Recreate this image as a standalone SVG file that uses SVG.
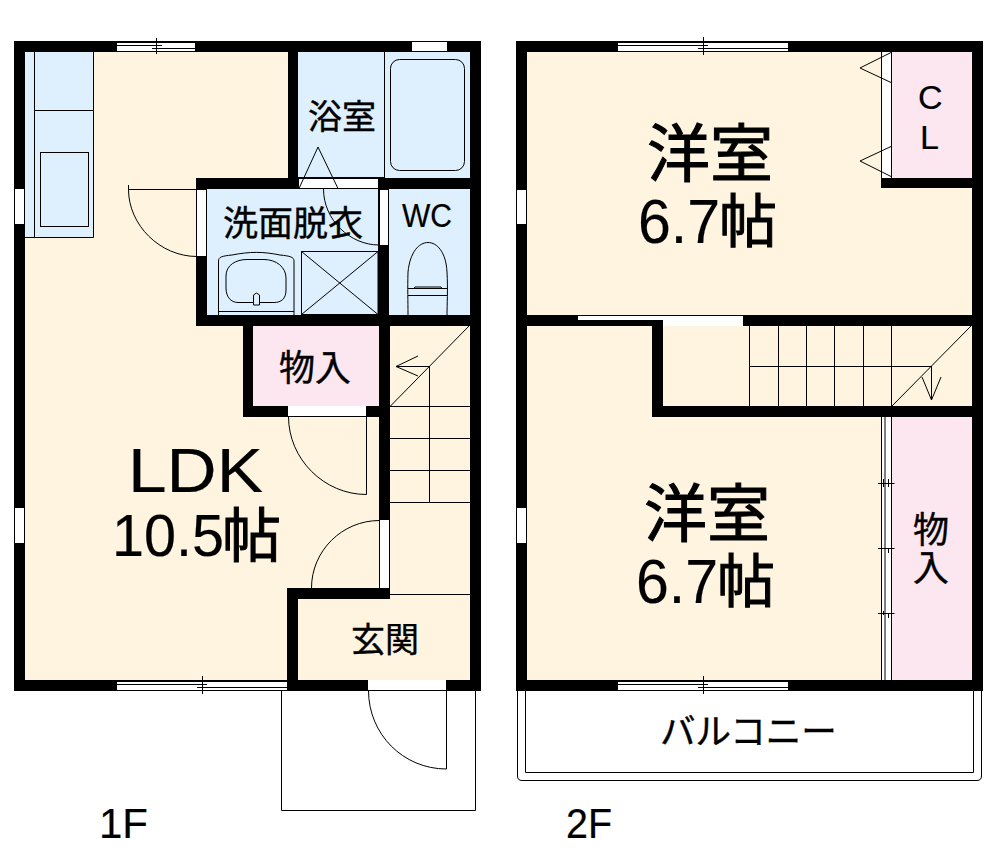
<svg xmlns="http://www.w3.org/2000/svg" width="995" height="863" viewBox="0 0 995 863">
<style>
.cream{fill:#fef4e0}.blue{fill:#deeffd}.pink{fill:#fce6f0}.win{fill:#fff}.wall{fill:#000}
.l{fill:none;stroke:#000;stroke-width:1}
.j{font-family:"Noto Sans CJK JP","Liberation Sans",sans-serif;fill:#000;stroke:#000;stroke-width:.4}
.big{stroke-width:1}
.a{font-family:"Liberation Sans","Noto Sans CJK JP",sans-serif;fill:#000;stroke:#000;stroke-width:.2}
</style>
<defs>
<g id="win170"><rect class="win" x="0" y="1" width="170" height="10"/><path class="l" d="M0 1.500H170M0 4.500H90M80 7.500H170M0 10.500H170M85.500 -4V14"/></g>
</defs>
<rect width="995" height="863" fill="#fff"/>
<g id="floor-1f">
<rect class="cream" x="25" y="52" width="264" height="628"/>
<rect class="blue" x="25" y="52" width="68.500" height="185.500"/>
<rect class="blue" x="298" y="52" width="172" height="126"/>
<rect class="blue" x="207" y="189" width="171" height="126"/>
<rect class="blue" x="389" y="189" width="81" height="126"/>
<rect class="cream" x="289" y="325" width="181" height="355"/>
<rect class="pink" x="253" y="325" width="126" height="81"/>
</g>
<g id="floor-2f">
<rect class="cream" x="527" y="52" width="445" height="628"/>
<rect class="pink" x="892" y="52" width="80" height="126"/>
<rect class="pink" x="892" y="417" width="80" height="263"/>
</g>
<g id="walls-1f">
<rect class="wall" x="14" y="41" width="467" height="11"/>
<rect class="wall" x="14" y="41" width="11" height="649"/>
<rect class="wall" x="470" y="41" width="11" height="649"/>
<rect class="wall" x="14" y="680" width="467" height="11"/>
<rect class="wall" x="288" y="41" width="10" height="148"/>
<rect class="wall" x="196" y="178" width="285" height="11"/>
<rect class="wall" x="196" y="178" width="11" height="148"/>
<rect class="wall" x="378" y="178" width="11" height="148"/>
<rect class="wall" x="196" y="315" width="285" height="11"/>
<rect class="wall" x="243" y="325" width="10" height="92"/>
<rect class="wall" x="243" y="406" width="147" height="11"/>
<rect class="wall" x="379" y="325" width="11" height="274"/>
<rect class="wall" x="287" y="588" width="103" height="11"/>
<rect class="wall" x="287" y="588" width="11" height="102"/>
</g>
<g id="walls-2f">
<rect class="wall" x="516" y="41" width="467" height="11"/>
<rect class="wall" x="516" y="41" width="11" height="650"/>
<rect class="wall" x="972" y="41" width="11" height="650"/>
<rect class="wall" x="516" y="680" width="467" height="11"/>
<rect class="wall" x="881" y="178" width="102" height="10"/>
<rect class="wall" x="516" y="315" width="467" height="11"/>
<rect class="wall" x="652" y="320" width="11" height="97"/>
<rect class="wall" x="652" y="406" width="331" height="11"/>
</g>
<g id="openings">
<rect class="win" x="117" y="42" width="78" height="10"/>
<path class="l" d="M117 42.500H195M117 45.500H162M152 48.500H195M117 51.500H195M156.500 38V54"/>
<use href="#win170" transform="translate(117 680)"/>
<rect class="win" x="412" y="42" width="35" height="9"/>
<rect class="win" x="15" y="189" width="9" height="35"/>
<rect class="win" x="15" y="508" width="9" height="35"/>
<rect class="win" x="197" y="190" width="9" height="66"/>
<rect class="win" x="299" y="179" width="79" height="9"/>
<rect class="win" x="380" y="190" width="8" height="55"/>
<rect class="win" x="288" y="406" width="78" height="10"/>
<rect class="win" x="380" y="520" width="9" height="68"/>
<rect class="win" x="368" y="680" width="78" height="10"/>
<use href="#win170" transform="translate(618 41)"/>
<use href="#win170" transform="translate(618 680)"/>
<rect class="win" x="517" y="190" width="9" height="34"/>
<rect class="win" x="517" y="508" width="9" height="35"/>
<rect class="win" x="882" y="52" width="10" height="126"/>
<rect class="win" x="578" y="316" width="79" height="4"/>
<rect class="win" x="663" y="316" width="80" height="10"/>
<rect class="win" x="657" y="316" width="6" height="4"/>
<rect class="win" x="882" y="417" width="10" height="263"/>
</g>
<g id="fixtures-1f">
<path class="l" d="M34.500 52V237.500M25 237.500H93.500V52M34.500 110.500H93.500"/>
<rect class="l" x="40.500" y="152.500" width="48" height="74"/>
<path class="l" d="M128.500 189.500H197M128.500 185V189.500C128.500 225 160 256.500 197 256.500"/>
<path class="l" d="M384.500 52V178M298 177.500H384"/>
<rect class="l" x="390.500" y="59.500" width="74" height="111" rx="9"/>
<path class="l" d="M299 188.500L318 147L338 188.500M323.500 189C323.500 220 350 245 379 245"/>
<path class="l" d="M218.500 315V261C218.500 257 222 256 232 255C250 251.500 263 251.500 280 255C290 256 294 257 294 261V315M218.500 311.500H294"/>
<path class="l" d="M226 288V276C226 265 236 259.500 247 259.500H264C276 259.500 286 267 286 278V290C286 299 281 302.500 274 302.500H238C231 302.500 226 297 226 288Z"/>
<path d="M253.500 305V295L256.500 293L259.500 295V305Z" fill="#deeffd" stroke="#000"/>
<rect class="l" x="301.500" y="251.500" width="76.500" height="63"/>
<path class="l" d="M301.500 251.500L378 314.500M378 251.500L301.500 314.500"/>
<path class="l" d="M408 315C408 300 407.500 290 408 272C410 252 419 242.500 428 242.500C437 242.500 446 252 447 272C448 290 447 305 447 315M408 288.500H447M408 295.500H447M414 288.500L415 287H441L442 288.500"/>
<path class="l" d="M390 406.500L469.500 325.500M429.500 366V502.500M390 406.500H470M390 438.500H470M390 470.500H470M390 502.500H470M390 594.500H470M429.500 366.500H396L418 356M396 366.500L418 376"/>
<path class="l" d="M288.500 416.500H366.500V494.500C324 494.500 288.500 459 288.500 416.500"/>
<path class="l" d="M379.500 520.500C342 520.500 311.500 551 311.500 588"/>
<path class="l" d="M368.500 690.500H446.500V769C403 769 368.500 734 368.500 690.500"/>
<path class="l" d="M281.500 690.500V810.500H475.500V690.500H281.500"/>
</g>
<g id="fixtures-2f">
<path class="l" d="M881.500 52V178M891.500 52V178M891 52.500L860 68L891 82.500M891 146.500L860 161L891 176.500"/>
<path d="M578 315.500H657" stroke="#000" stroke-dasharray="1 1" fill="none"/>
<path class="l" d="M657 315.500H743"/>
<path class="l" d="M749.500 326V406M778.500 326V406M806.500 326V406M834.500 326V406M863.500 326V406M891.500 326V406M749.500 366.500H931.500M892 406L971 326M931.500 366V400M922 377L931.500 400L941 377"/>
<path class="l" d="M881.500 417V680M885 417V680M891.500 417V680M878 483.500H894.500M878 548.500H894.500M878 613.500H894.500M883.500 479V487M888.500 479V487M888.500 548V553M883.500 611V615M888.500 613V618"/>
<path class="l" d="M525.500 691V772.500H973.500V691"/>
<path class="l" d="M517.500 691V776Q517.500 780.500 522 780.500H977Q981.500 780.500 981.500 776V691"/>
</g>
<g id="labels">
<text class="a"><tspan x="128" y="491.500" font-size="63" textLength="135" lengthAdjust="spacingAndGlyphs">LDK</tspan><tspan x="112" y="556" font-size="60" textLength="112" lengthAdjust="spacingAndGlyphs">10.5</tspan><tspan font-size="59" x="222" y="556.500" class="j big">帖</tspan></text>
<text class="j" x="308" y="129" font-size="34">浴室</text>
<text class="j" x="223" y="236" font-size="35">洗面脱衣</text>
<text class="a" x="402" y="226.500" font-size="33" textLength="50" lengthAdjust="spacingAndGlyphs">WC</text>
<text class="j" x="279" y="381" font-size="36">物入</text>
<text class="j" x="351" y="652" font-size="34">玄関</text>
<text class="a" x="918" y="109" font-size="34">C</text>
<text class="a" x="920" y="148.500" font-size="34">L</text>
<text class="j big"><tspan x="647" y="176" font-size="63">洋室</tspan><tspan x="638" y="242.500" font-size="63" textLength="82" lengthAdjust="spacingAndGlyphs" class="a">6.7</tspan><tspan x="719" y="242" font-size="58">帖</tspan></text>
<text class="j big"><tspan x="644" y="536" font-size="63">洋室</tspan><tspan x="636" y="602.500" font-size="63" textLength="82" lengthAdjust="spacingAndGlyphs" class="a">6.7</tspan><tspan x="717" y="602" font-size="58">帖</tspan></text>
<text class="j" x="931" y="511" font-size="36" letter-spacing="2" writing-mode="vertical-rl">物入</text>
<text class="j" x="660" y="744" font-size="35.500">バルコニー</text>
<text class="a" x="99" y="838" font-size="43" textLength="49" lengthAdjust="spacingAndGlyphs">1F</text>
<text class="a" x="566" y="838" font-size="43" textLength="46" lengthAdjust="spacingAndGlyphs">2F</text>
</g>
</svg>
